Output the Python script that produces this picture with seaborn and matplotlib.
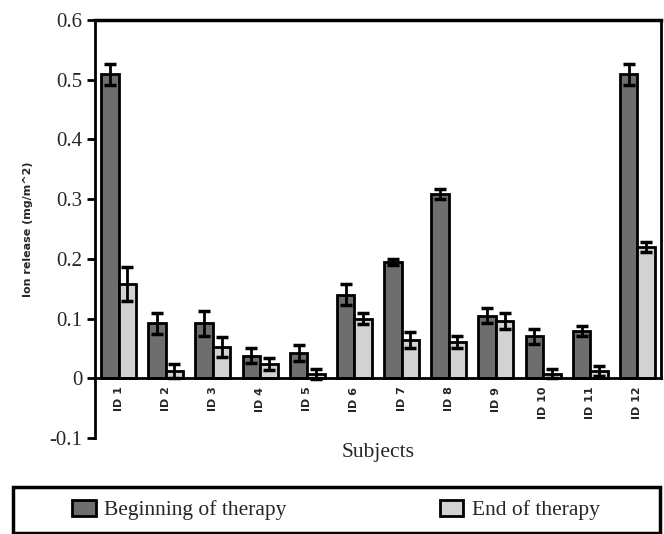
import matplotlib
matplotlib.use("Agg")
import matplotlib.pyplot as plt
import seaborn as sns
import pandas as pd
from matplotlib.patches import Patch, Rectangle

## data
subjects = ["ID 1", "ID 2", "ID 3", "ID 4", "ID 5", "ID 6",
            "ID 7", "ID 8", "ID 9", "ID 10", "ID 11", "ID 12"]
begin_vals = [0.509, 0.092, 0.092, 0.038, 0.042, 0.140, 0.194, 0.309, 0.105, 0.070, 0.079, 0.509]
begin_err = [0.018, 0.017, 0.021, 0.012, 0.013, 0.018, 0.005, 0.008, 0.013, 0.012, 0.008, 0.018]
end_vals = [0.158, 0.012, 0.052, 0.024, 0.007, 0.100, 0.064, 0.061, 0.096, 0.008, 0.012, 0.220]
end_err = [0.028, 0.012, 0.017, 0.010, 0.009, 0.009, 0.013, 0.010, 0.013, 0.008, 0.008, 0.008]
groups = ["Beginning of therapy", "End of therapy"]
colors = ["#6e6e6e", "#d2d2d2"]

df = pd.DataFrame({
    "Subject": subjects * 2,
    "Value": begin_vals + end_vals,
    "Period": [groups[0]] * 12 + [groups[1]] * 12,
})
errs = {groups[0]: begin_err, groups[1]: end_err}

sns.set_style("white")
plt.rcParams['font.family'] = ['Liberation Serif', 'DejaVu Serif']

fig = plt.figure(figsize=(6.64, 5.34), dpi=100)
ax = fig.add_axes([95 / 664, 96 / 534, 566 / 664, 418 / 534])

sns.barplot(data=df, x="Subject", y="Value", hue="Period", palette=colors,
            errorbar=None, width=0.74, edgecolor="black", linewidth=2,
            legend=False, ax=ax)

# error bars on top of each bar container
for cont, g in zip(ax.containers, groups):
    xs = [p.get_x() + p.get_width() / 2 for p in cont.patches]
    hs = [p.get_height() for p in cont.patches]
    ax.errorbar(xs, hs, yerr=errs[g], fmt="none", ecolor="black",
                elinewidth=2, capsize=4, capthick=2.5, zorder=5)

ax.set_xlim(-0.5, 11.5)
ax.set_ylim(-0.1, 0.6)
ax.set_yticks([-0.1, 0, 0.1, 0.2, 0.3, 0.4, 0.5, 0.6])
ax.set_yticklabels(["-0.1", "0", "0.1", "0.2", "0.3", "0.4", "0.5", "0.6"], fontsize=15)

# category axis sits on y = 0
ax.spines['bottom'].set_position(('data', 0))
ax.spines['bottom'].set_linewidth(2)
ax.spines['left'].set_linewidth(2)
ax.spines['top'].set_linewidth(2.5)
ax.spines['right'].set_linewidth(2)
ax.spines['right'].set_bounds(0, 0.6)
for s in ax.spines.values():
    s.set_color("black")

ax.set_xticks(range(12))
ax.set_xticklabels(subjects, rotation=90, fontsize=8, fontweight="bold",
                   family=['DejaVu Sans'])
ax.set_xticks([i + 0.5 for i in range(-1, 12)], minor=True)
ax.tick_params(axis='x', which='major', length=0, pad=6)
ax.tick_params(axis='x', which='minor', length=5, width=2, direction='out', color='black')
ax.tick_params(axis='y', length=6, width=2, direction='out', color='black', left=True, pad=3)

ax.set_xlabel("")
ax.set_ylabel("Ion release (mg/m^2)", fontsize=8, fontweight="bold",
              family=['DejaVu Sans'], labelpad=12)
fig.text((95 + 661) / 2 / 664, 1 - 452 / 534, "Subjects", ha="center", va="center", fontsize=15.5)

# legend frame spanning the figure width
fig.patches.append(Rectangle((13 / 664, 1 / 534), 647 / 664, 46 / 534,
                             transform=fig.transFigure, fill=False,
                             edgecolor="black", linewidth=2.5))
handles = [Patch(facecolor=c, edgecolor="black", linewidth=2) for c in colors]
leg = fig.legend(handles, groups, loc="center left", ncol=2,
                 bbox_to_anchor=(72 / 664, 24 / 534),
                 fontsize=15.5, frameon=False,
                 handlelength=1.1, handleheight=0.75, handletextpad=0.4,
                 borderaxespad=0, borderpad=0, columnspacing=7.1)

fig.savefig("out.png", dpi=100)
